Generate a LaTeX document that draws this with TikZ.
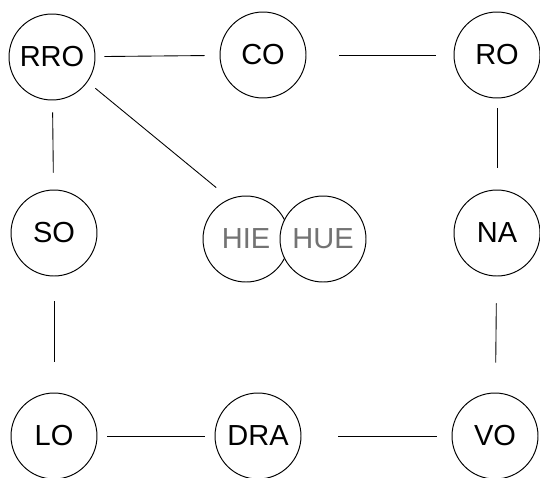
\documentclass[tikz,border=0pt]{standalone}
\usepackage{fontspec}
\setmainfont{Liberation Sans}
\begin{document}
\begin{tikzpicture}[x=0.02cm,y=-0.02cm,
    stage/.style={draw,circle,line width=0.55pt,fill=white,minimum size=1.72cm,inner sep=0pt,font=\fontsize{16.5}{19}\selectfont},
    faded/.style={text=black!55},
    link/.style={line width=0.5pt}]
    \useasboundingbox[fill=white] (0,0) rectangle (540,477);
    % top row
    \node[stage] (RRO) at (52,57) {RRO};
    \node[stage] (CO) at (263,55) {CO};
    \node[stage] (RO) at (497,55) {RO};
    % middle row
    \node[stage] (SO) at (54,233) {SO};
    \node[stage,faded] (HIE) at (246,239) {HIE};
    \node[stage,faded] (HUE) at (323,239) {HUE};
    \node[stage] (NA) at (497,233) {NA};
    % bottom row
    \node[stage] (LO) at (54,436) {LO};
    \node[stage] (DRA) at (258,436) {DRA};
    \node[stage] (VO) at (495,436) {VO};
    \draw[link,shorten <=0.18cm,shorten >=0.3cm] (RRO) -- (CO);
    \draw[link,shorten <=0.66cm,shorten >=0.36cm] (CO) -- (RO);
    \draw[link,shorten <=0.24cm,shorten >=0.34cm] (RRO) -- (SO);
    \draw[link,shorten <=0.5cm,shorten >=0.62cm] (SO) -- (LO);
    \draw[link,shorten <=0.2cm,shorten >=0.44cm] (RO) -- (NA);
    \draw[link,shorten <=0.54cm,shorten >=0.6cm] (NA) -- (VO);
    \draw[link,shorten <=0.2cm,shorten >=0.2cm] (LO) -- (DRA);
    \draw[link,shorten <=0.74cm,shorten >=0.3cm] (DRA) -- (VO);
    \draw[link,shorten <=0.2cm,shorten >=0.35cm] (RRO.-35) -- (HIE.112);
\end{tikzpicture}
\end{document}
